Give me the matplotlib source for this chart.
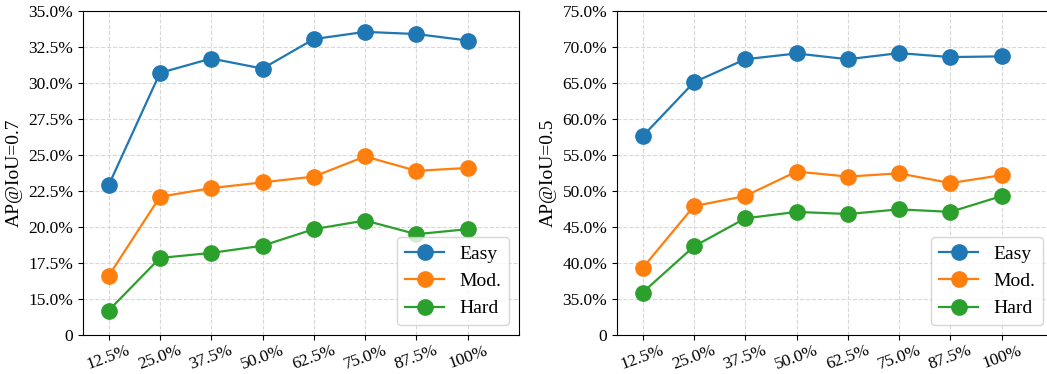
"""Easy / Mod. / Hard AP vs. fraction of training data, at IoU 0.7 and 0.5."""
import matplotlib
matplotlib.use("Agg")
import matplotlib.pyplot as plt

plt.rcParams["font.family"] = ["Liberation Serif", "DejaVu Serif"]

fractions = ["12.5%", "25.0%", "37.5%", "50.0%", "62.5%", "75.0%", "87.5%", "100%"]
series_names = ["Easy", "Mod.", "Hard"]
colours = ["tab:blue", "tab:orange", "tab:green"]

# AP@IoU=0.7 (percent)
ap07_easy = [22.9, 30.7, 31.7, 31.0, 33.05, 33.55, 33.4, 32.95]
ap07_mod = [16.6, 22.1, 22.7, 23.1, 23.5, 24.9, 23.9, 24.1]
ap07_hard = [14.2, 17.85, 18.2, 18.7, 19.85, 20.45, 19.5, 19.85]

# AP@IoU=0.5 (percent)
ap05_easy = [57.6, 65.1, 68.3, 69.1, 68.3, 69.15, 68.6, 68.7]
ap05_mod = [39.3, 47.9, 49.3, 52.7, 52.0, 52.45, 51.1, 52.2]
ap05_hard = [35.9, 42.3, 46.2, 47.1, 46.8, 47.45, 47.1, 49.3]

ap07_yticks = [12.5, 15.0, 17.5, 20.0, 22.5, 25.0, 27.5, 30.0, 32.5, 35.0]
ap07_yticklabels = ["0"] + [f"{v:.1f}%" for v in ap07_yticks[1:]]
ap05_yticks = [30.0, 35.0, 40.0, 45.0, 50.0, 55.0, 60.0, 65.0, 70.0, 75.0]
ap05_yticklabels = ["0"] + [f"{v:.1f}%" for v in ap05_yticks[1:]]


def draw_panel(ax, values, yticks, yticklabels, ylabel):
    x = range(len(fractions))
    for vals, name, colour in zip(values, series_names, colours):
        ax.plot(x, vals, color=colour, linewidth=1.6, marker="o", markersize=11,
                label=name)
    ax.set_xlim(-0.5, 8)
    ax.set_ylim(yticks[0], yticks[-1])
    ax.set_xticks(list(x))
    ax.set_xticklabels(fractions, rotation=20, fontsize=12.5)
    ax.set_yticks(yticks)
    ax.set_yticklabels(yticklabels, fontsize=12.5)
    ax.tick_params(axis="x", pad=2)
    ax.set_ylabel(ylabel, fontsize=14, labelpad=4)
    ax.grid(True, linestyle="--", color="#d8d8d8", linewidth=0.8)
    ax.set_axisbelow(True)
    ax.legend(loc="lower right", fontsize=14, borderaxespad=0.5)


fig = plt.figure(figsize=(10.47, 3.74), dpi=100)
ax_l = fig.add_axes([0.0793, 0.1043, 0.4164, 0.8663])
ax_r = fig.add_axes([0.5893, 0.1043, 0.4164, 0.8663])

draw_panel(ax_l, [ap07_easy, ap07_mod, ap07_hard], ap07_yticks, ap07_yticklabels,
           "AP@IoU=0.7")
draw_panel(ax_r, [ap05_easy, ap05_mod, ap05_hard], ap05_yticks, ap05_yticklabels,
           "AP@IoU=0.5")

fig.savefig("out.png", dpi=100)
